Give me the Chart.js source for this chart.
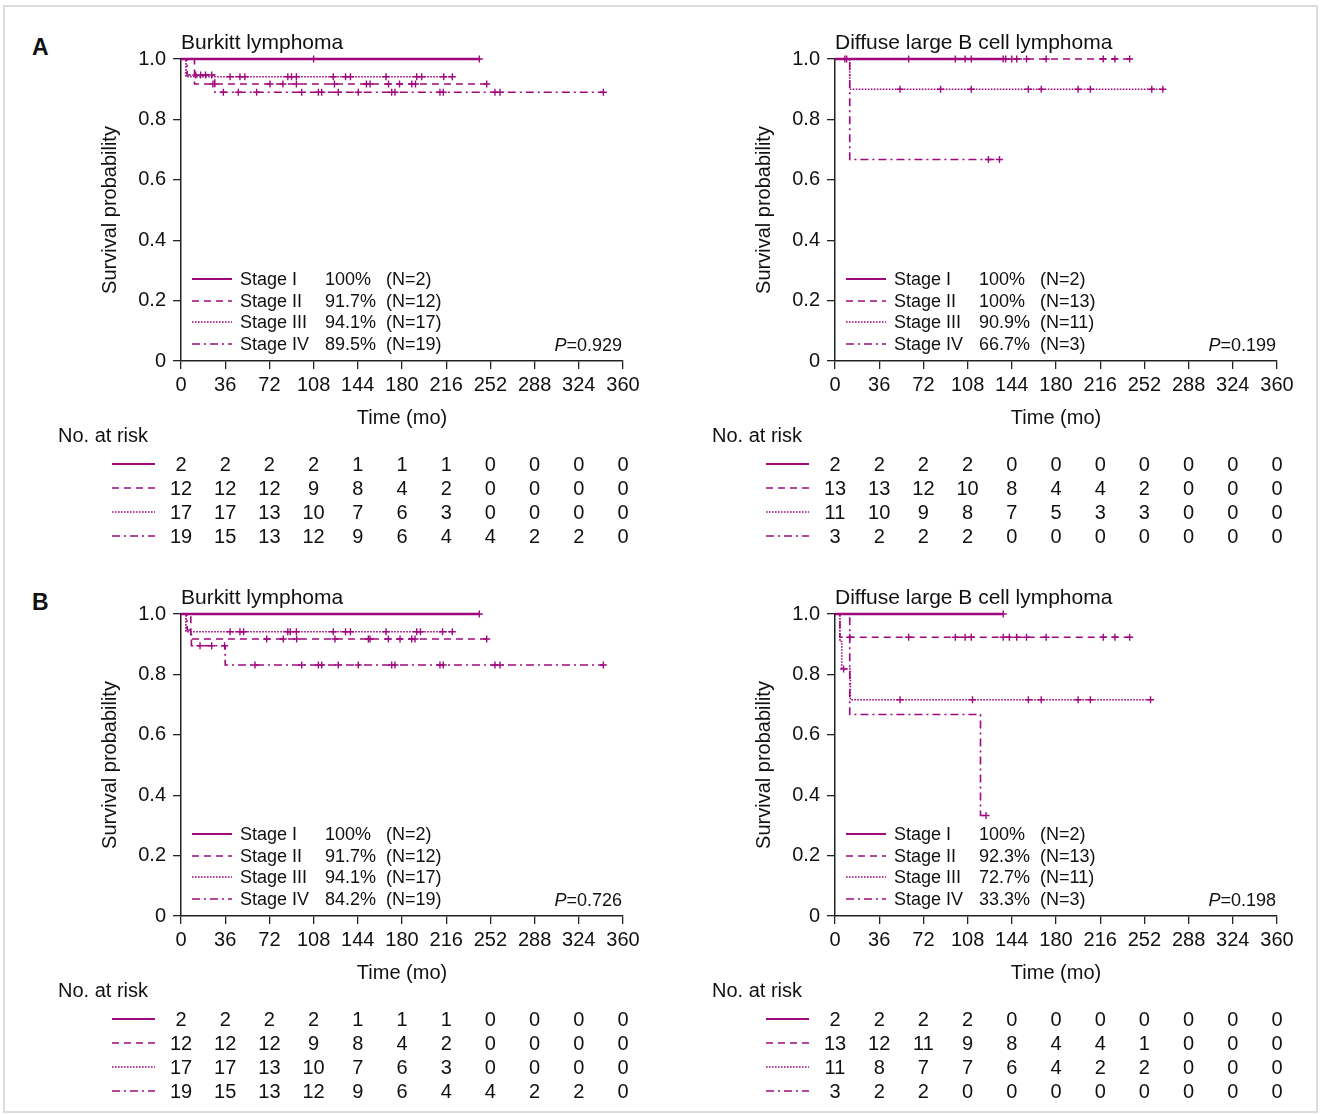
<!DOCTYPE html>
<html>
<head>
<meta charset="utf-8">
<script src="https://cdn.jsdelivr.net/npm/chart.js@4.4.0/dist/chart.umd.min.js"></script>
<style>
  body { margin: 0; width: 1320px; height: 1115px; position: relative; background: #fff; overflow: hidden;
         font-family: "Liberation Sans", Arial, sans-serif; color: #111; }
  #frame { position: absolute; left: 3px; top: 5px; width: 1311px; height: 1104px; border: 2px solid #dcdcdc; }
  canvas { position: absolute; }
  .txt { position: absolute; white-space: nowrap; }
  svg { position: absolute; overflow: visible; }
</style>
</head>
<body>
<div id="frame"></div>
<script>
const FONT = '"Liberation Sans", Arial, sans-serif';
const color = '#a0087e';

const timeTicks = [0, 36, 72, 108, 144, 180, 216, 252, 288, 324, 360];
const survTicks = [0, 0.2, 0.4, 0.6, 0.8, 1.0];
const stageLabels = ['Stage I', 'Stage II', 'Stage III', 'Stage IV'];

// A, Burkitt lymphoma: [time, survival] steps and censor times
const aBurkittI = [[0, 1], [243, 1]];
const aBurkittII = [[0, 1], [11, 0.917], [249, 0.917]];
const aBurkittIII = [[0, 1], [4, 0.941], [221, 0.941]];
const aBurkittIV = [[0, 1], [5, 0.947], [27.5, 0.89], [344, 0.89]];
const aBurkittCensI = [108, 243];
const aBurkittCensII = [26, 72.5, 83, 94, 125, 151, 154, 169, 178, 188, 191, 249];
const aBurkittCensIII = [40, 48, 52, 87, 90, 94, 124, 134, 138, 167, 192, 196, 214, 221];
const aBurkittCensIV = [12, 16, 20, 25, 34.5, 46.7, 61.6, 98.3, 111.9, 114.6, 128.1, 144.4, 171.6, 174.3, 210.9, 213.6, 255.7, 259.8, 344];
const aBurkittPct = ['100%', '91.7%', '94.1%', '89.5%'];
const aBurkittN = [2, 12, 17, 19];
const aBurkittRisk = [
  [2, 2, 2, 2, 1, 1, 1, 0, 0, 0, 0],
  [12, 12, 12, 9, 8, 4, 2, 0, 0, 0, 0],
  [17, 17, 13, 10, 7, 6, 3, 0, 0, 0, 0],
  [19, 15, 13, 12, 9, 6, 4, 4, 2, 2, 0]
];

// A, Diffuse large B cell lymphoma
const aDlbclI = [[0, 1], [139, 1]];
const aDlbclII = [[0, 1], [240, 1]];
const aDlbclIII = [[0, 1], [12, 0.9], [267, 0.9]];
const aDlbclIV = [[0, 1], [12, 0.667], [134, 0.667]];
const aDlbclCensI = [9.5, 139];
const aDlbclCensII = [8, 60, 98, 106, 111, 137, 144, 148, 156, 172, 218.5, 228, 240];
const aDlbclCensIII = [53, 86, 111, 157.5, 168, 198, 208, 258, 267];
const aDlbclCensIV = [125, 134];
const aDlbclPct = ['100%', '100%', '90.9%', '66.7%'];
const aDlbclN = [2, 13, 11, 3];
const aDlbclRisk = [
  [2, 2, 2, 2, 0, 0, 0, 0, 0, 0, 0],
  [13, 13, 12, 10, 8, 4, 4, 2, 0, 0, 0],
  [11, 10, 9, 8, 7, 5, 3, 3, 0, 0, 0],
  [3, 2, 2, 2, 0, 0, 0, 0, 0, 0, 0]
];

// B, Burkitt lymphoma
const bBurkittI = [[0, 1], [243, 1]];
const bBurkittII = [[0, 1], [8, 0.917], [249, 0.917]];
const bBurkittIII = [[0, 1], [4, 0.941], [221, 0.941]];
const bBurkittIV = [[0, 1], [5, 0.947], [8.5, 0.895], [36, 0.831], [344, 0.831]];
const bBurkittCensI = [243];
const bBurkittCensII = [69.8, 83.3, 94.2, 125.4, 152.6, 153.9, 168.9, 178.4, 187.9, 190.6, 249];
const bBurkittCensIII = [40, 48, 51, 87, 89, 94, 124, 134, 138, 167, 192, 195, 213, 221];
const bBurkittCensIV = [15.5, 25, 35.5, 60.3, 98.3, 111.9, 114.6, 128.1, 144.4, 171.6, 174.3, 210.9, 213.6, 255.7, 259.8, 344];
const bBurkittPct = ['100%', '91.7%', '94.1%', '84.2%'];
const bBurkittN = [2, 12, 17, 19];
const bBurkittRisk = [
  [2, 2, 2, 2, 1, 1, 1, 0, 0, 0, 0],
  [12, 12, 12, 9, 8, 4, 2, 0, 0, 0, 0],
  [17, 17, 13, 10, 7, 6, 3, 0, 0, 0, 0],
  [19, 15, 13, 12, 9, 6, 4, 4, 2, 2, 0]
];

// B, Diffuse large B cell lymphoma
const bDlbclI = [[0, 1], [137, 1]];
const bDlbclII = [[0, 1], [4, 0.923], [240, 0.923]];
const bDlbclIII = [[0, 1], [4, 0.909], [5.5, 0.818], [12.5, 0.716], [257, 0.716]];
const bDlbclIV = [[0, 1], [12, 0.667], [118.5, 0.333], [123, 0.333]];
const bDlbclCensI = [137];
const bDlbclCensII = [12, 60, 98, 106, 111, 137, 142, 148, 156, 172, 218.5, 228, 240];
const bDlbclCensIII = [7, 53, 112, 157.5, 168, 198, 208, 257];
const bDlbclCensIV = [123];
const bDlbclPct = ['100%', '92.3%', '72.7%', '33.3%'];
const bDlbclN = [2, 13, 11, 3];
const bDlbclRisk = [
  [2, 2, 2, 2, 0, 0, 0, 0, 0, 0, 0],
  [13, 12, 11, 9, 8, 4, 4, 1, 0, 0, 0],
  [11, 8, 7, 7, 6, 4, 2, 2, 0, 0, 0],
  [3, 2, 2, 0, 0, 0, 0, 0, 0, 0, 0]
];

const stageStyles = [
  { dash: [], width: 2.4 },
  { dash: [7, 5], width: 1.6 },
  { dash: [1.6, 1.4], width: 1.6 },
  { dash: [8, 4, 2, 4], width: 1.6 }
];

const panels = [
  { ox: 0, oy: 0, letter: 'A', title: 'Burkitt lymphoma', p: '0.929',
    curves: [aBurkittI, aBurkittII, aBurkittIII, aBurkittIV],
    cens: [aBurkittCensI, aBurkittCensII, aBurkittCensIII, aBurkittCensIV],
    pct: aBurkittPct, n: aBurkittN, risk: aBurkittRisk },
  { ox: 654, oy: 0, title: 'Diffuse large B cell lymphoma', p: '0.199',
    curves: [aDlbclI, aDlbclII, aDlbclIII, aDlbclIV],
    cens: [aDlbclCensI, aDlbclCensII, aDlbclCensIII, aDlbclCensIV],
    pct: aDlbclPct, n: aDlbclN, risk: aDlbclRisk },
  { ox: 0, oy: 555, letter: 'B', title: 'Burkitt lymphoma', p: '0.726',
    curves: [bBurkittI, bBurkittII, bBurkittIII, bBurkittIV],
    cens: [bBurkittCensI, bBurkittCensII, bBurkittCensIII, bBurkittCensIV],
    pct: bBurkittPct, n: bBurkittN, risk: bBurkittRisk },
  { ox: 654, oy: 555, title: 'Diffuse large B cell lymphoma', p: '0.198',
    curves: [bDlbclI, bDlbclII, bDlbclIII, bDlbclIV],
    cens: [bDlbclCensI, bDlbclCensII, bDlbclCensIII, bDlbclCensIV],
    pct: bDlbclPct, n: bDlbclN, risk: bDlbclRisk }
];

const levelAt = (curve, t) => {
  let s = curve[0][1];
  curve.forEach(([x, y]) => { if (x <= t) s = y; });
  return s;
};

const addText = (html, x, y, size, align = 'left', weight = 'normal') => {
  const d = document.createElement('div');
  d.className = 'txt';
  d.innerHTML = html;
  d.style.left = x + 'px';
  d.style.top = (y - size * 0.49) + 'px';
  d.style.fontSize = size + 'px';
  d.style.lineHeight = size + 'px';
  d.style.fontWeight = weight;
  if (align === 'center') d.style.transform = 'translateX(-50%)';
  if (align === 'right') d.style.transform = 'translateX(-100%)';
  document.body.appendChild(d);
};

const addSample = (i, x1, x2, y) => {
  const st = stageStyles[i];
  const ns = 'http://www.w3.org/2000/svg';
  const svg = document.createElementNS(ns, 'svg');
  svg.setAttribute('width', x2 - x1);
  svg.setAttribute('height', 6);
  svg.style.left = x1 + 'px';
  svg.style.top = (y - 3) + 'px';
  const line = document.createElementNS(ns, 'line');
  line.setAttribute('x1', 0); line.setAttribute('x2', x2 - x1);
  line.setAttribute('y1', 3); line.setAttribute('y2', 3);
  line.setAttribute('stroke', color);
  line.setAttribute('stroke-width', st.width * 0.85);
  if (st.dash.length) line.setAttribute('stroke-dasharray', st.dash.join(' '));
  svg.appendChild(line);
  document.body.appendChild(svg);
};

const axisStyle = {
  grid: { drawOnChartArea: false, drawTicks: true, tickLength: 8, color: '#222', lineWidth: 1.3 },
  border: { display: true, color: '#222', width: 1.5 }
};

const drawPanel = (p) => {
  const cv = document.createElement('canvas');
  cv.width = 600;
  cv.height = 410;
  const left = p.ox + 60, top = p.oy + 20;
  cv.style.left = left + 'px';
  cv.style.top = top + 'px';
  document.body.appendChild(cv);

  const datasets = [];
  p.curves.forEach((c, i) => {
    datasets.push({
      type: 'line',
      data: c.map(([x, y]) => ({ x, y })),
      stepped: 'before',
      borderColor: color,
      borderWidth: stageStyles[i].width,
      borderDash: stageStyles[i].dash,
      pointRadius: 0,
      fill: false,
      clip: false
    });
    datasets.push({
      type: 'scatter',
      data: p.cens[i].map(t => ({ x: t, y: levelAt(c, t) })),
      pointStyle: 'cross',
      pointRadius: 3.5,
      borderWidth: 1.4,
      borderColor: color,
      backgroundColor: color,
      clip: false
    });
  });

  const chart = new Chart(cv, {
    type: 'line',
    data: { datasets },
    options: {
      responsive: false,
      animation: false,
      devicePixelRatio: 1,
      events: [],
      layout: { padding: { left: 38, top: 39, right: 37, bottom: 0 } },
      plugins: { legend: { display: false }, tooltip: { enabled: false } },
      scales: {
        x: {
          type: 'linear', min: 0, max: 360,
          afterBuildTicks: s => { s.ticks = timeTicks.map(v => ({ value: v })); },
          afterFit: s => { s.height = 69; },
          ticks: { autoSkip: false, maxRotation: 0, padding: 4, color: '#111', font: { size: 20, family: FONT } },
          title: { display: true, text: 'Time (mo)', color: '#111', padding: 0, font: { size: 20, family: FONT } },
          ...axisStyle
        },
        y: {
          min: 0, max: 1,
          afterBuildTicks: s => { s.ticks = survTicks.map(v => ({ value: v })); },
          afterFit: s => { s.width = 83; },
          ticks: { padding: 7, color: '#111', font: { size: 20, family: FONT },
                   callback: v => v === 0 ? '0' : v.toFixed(1) },
          title: { display: true, text: 'Survival probability', color: '#111', padding: 0, font: { size: 20, family: FONT } },
          ...axisStyle
        }
      }
    }
  });

  const xs = chart.scales.x;
  const ox = p.ox, oy = p.oy;

  if (p.letter) addText(p.letter, 32, 47 + oy, 23, 'left', 'bold');
  addText(p.title, 181 + ox, 41 + oy, 21);

  // legend inside plot
  const legY = [279, 300.5, 322, 343.5];
  stageLabels.forEach((lab, i) => {
    const y = legY[i] + oy;
    addSample(i, 192 + ox, 232 + ox, y);
    addText(lab, 240 + ox, y, 18);
    addText(p.pct[i], 325 + ox, y, 18);
    addText('(N=' + p.n[i] + ')', 386 + ox, y, 18);
  });
  addText('<i>P</i>=' + p.p, 622 + ox, 345 + oy, 18, 'right');

  // number at risk table
  addText('No. at risk', 58 + ox, 435 + oy, 20);
  p.risk.forEach((row, i) => {
    const y = 464 + i * 24 + oy;
    addSample(i, 112 + ox, 155 + ox, y);
    row.forEach((v, j) => {
      addText(String(v), left + xs.getPixelForValue(timeTicks[j]), y, 20, 'center');
    });
  });
};

panels.forEach(drawPanel);
</script>
</body>
</html>
